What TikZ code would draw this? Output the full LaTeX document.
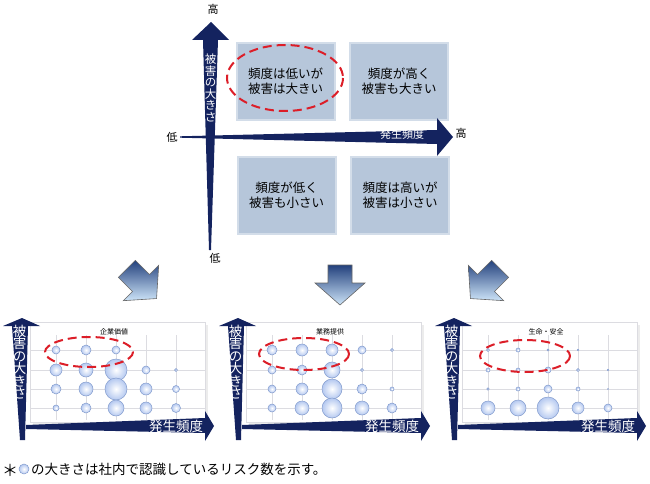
\documentclass[tikz,border=0pt]{standalone}
\usepackage{fontspec}
\setmainfont{Noto Sans CJK JP}
\usetikzlibrary{shadows}
\definecolor{navy}{RGB}{20,35,95}
\definecolor{quad}{RGB}{182,198,218}
\definecolor{bubf}{RGB}{180,200,240}
\definecolor{bubd}{RGB}{130,155,205}
\definecolor{gridc}{RGB}{220,220,225}
\definecolor{redd}{RGB}{220,30,40}
\definecolor{arrtop}{RGB}{35,65,125}
\definecolor{arrbot}{RGB}{205,228,248}
\tikzset{
  quadbox/.style={fill=quad,draw=quad!60,line width=2pt,minimum width=98pt,minimum height=77pt,align=center,font=\fontsize{12.5}{15}\selectfont,text=black},
  axis/.style={fill=navy},
  redell/.style={draw=redd,dashed,dash pattern=on 9pt off 5pt,line width=2pt},
  lbl/.style={font=\fontsize{11}{12}\selectfont},
  bub/.style={inner color=white,outer color=bubf,draw=bubd,line width=0.5pt},
  bigarrow/.style={top color=arrtop,bottom color=arrbot,draw=black!60,line width=0.6pt},
  vtext/.style={text=white,align=center,font=\fontsize{11.5}{11.5}\selectfont,inner sep=0pt},
}
\newcommand{\vstack}{被\\害\\の\\大\\き\\さ}
\newcommand{\minichart}[8]{%
 \begin{scope}[shift={(#1,0)}]
  \node[draw=gridc,fill=white,drop shadow={opacity=0.15},minimum width=175pt,minimum height=100pt,anchor=north west] (plot#2) at (30,322) {};
  \foreach \yy in {350,370,389,408} \draw[gridc] (30,\yy) -- (205,\yy);
  \foreach \xx in {56,86,116,146,176} \draw[gridc] (\xx,335) -- (\xx,420);
  \node[font=\fontsize{7}{8}\selectfont] (title#2) at (114,332) {#3};
  \foreach \r [count=\i] in {#4} {\ifdim\r pt>0pt \shade[bub] ({26+30*\i},350) circle (\r);\fi}
  \foreach \r [count=\i] in {#5} {\ifdim\r pt>0pt \shade[bub] ({26+30*\i},370) circle (\r);\fi}
  \foreach \r [count=\i] in {#6} {\ifdim\r pt>0pt \shade[bub] ({26+30*\i},389) circle (\r);\fi}
  \foreach \r [count=\i] in {#7} {\ifdim\r pt>0pt \shade[bub] ({26+30*\i},408) circle (\r);\fi}
  \draw[redell] #8;
  \fill[axis] (26,425) -- (205,418) -- (205,411) -- (214,426) -- (205,441) -- (205,433) -- (26,429) -- cycle;
  \fill[axis] (20,440) -- (12,326) -- (3,326) -- (22,318) -- (40,326) -- (28,326) -- (25,440) -- cycle;
  \node[vtext,font=\fontsize{13.5}{12.5}\selectfont] (v#2) at (19.5,362) {\vstack};
  \node[text=white,font=\fontsize{13.5}{14}\selectfont,inner sep=0pt] (h#2) at (176,426) {発生頻度};
 \end{scope}}
\begin{document}
\begin{tikzpicture}[x=1pt,y=-1pt]
\useasboundingbox (0,0) rectangle (650,484);
% quadrants
\node[quadbox] (q1) at (285.5,81.5) {頻度は低いが\\被害は大きい};
\node[quadbox] (q2) at (399,81.5) {頻度が高く\\被害も大きい};
\node[quadbox] (q3) at (286.5,195) {頻度が低く\\被害も小さい};
\node[quadbox] (q4) at (400,195) {頻度は高いが\\被害は小さい};
\draw[redell] (285,78) ellipse (58 and 33);
% axes
\fill[axis] (180,136.3) -- (437,130) -- (437,118) -- (453,137) -- (437,156) -- (437,144) -- (180,137.7) -- cycle;
\fill[axis] (209,250) -- (203,40) -- (192,40) -- (211,22) -- (229,40) -- (218,40) -- (211,250) -- cycle;
\node[vtext] (vt) at (210.5,88) {\vstack};
\node[text=white,font=\fontsize{11}{12}\selectfont,inner sep=0pt] (ht) at (402,134) {発生頻度};
\node[lbl] (hiY) at (213,9) {高};
\node[lbl] (loX) at (172,137) {低};
\node[lbl] (hiX) at (461,133) {高};
\node[lbl] (loY) at (215,258) {低};
% big arrows
\begin{scope}[shift={(340,283)}]
 \shade[bigarrow] (-12,-18) -- (12,-18) -- (12,0) -- (25,0) -- (0,22) -- (-25,0) -- (-12,0) -- cycle;
\end{scope}
\begin{scope}[shift={(141,283)},rotate=45]
 \shade[bigarrow] (-12,-20) -- (12,-20) -- (12,0) -- (25,0) -- (0,22) -- (-25,0) -- (-12,0) -- cycle;
\end{scope}
\begin{scope}[shift={(486,283)},rotate=-45]
 \shade[bigarrow] (-12,-20) -- (12,-20) -- (12,0) -- (25,0) -- (0,22) -- (-25,0) -- (-12,0) -- cycle;
\end{scope}
% mini charts
\minichart{0}{a}{企業価値}{4,5,4,0,0}{6,7,11,4,1.5}{5,7,11,6,3.5}{3,5,8,6,4.5}{(89,352) ellipse (44 and 15)}
\minichart{216}{b}{業務提供}{5,6,6,4,1.5}{4,5,8,1.5,0}{4,6,10,5,2}{4,7,10,7,5}{(88,354) ellipse (45 and 16)}
\minichart{432}{c}{生命・安全}{1.5,2,1,0.8,0}{2,2,3,1.5,0.8}{1.2,2,4,2,0.5}{7,8,11,6,4}{(93,356) ellipse (45 and 16)}
% footnote
\node[font=\fontsize{16}{16}\selectfont,inner sep=0pt] (star) at (10,470) {＊};
\shade[bub] (24,469) circle (5);
\node[anchor=west,font=\fontsize{13.5}{14}\selectfont,inner sep=0pt] (foot) at (31,469) {の大きさは社内で認識しているリスク数を示す。};
\end{tikzpicture}
\end{document}
